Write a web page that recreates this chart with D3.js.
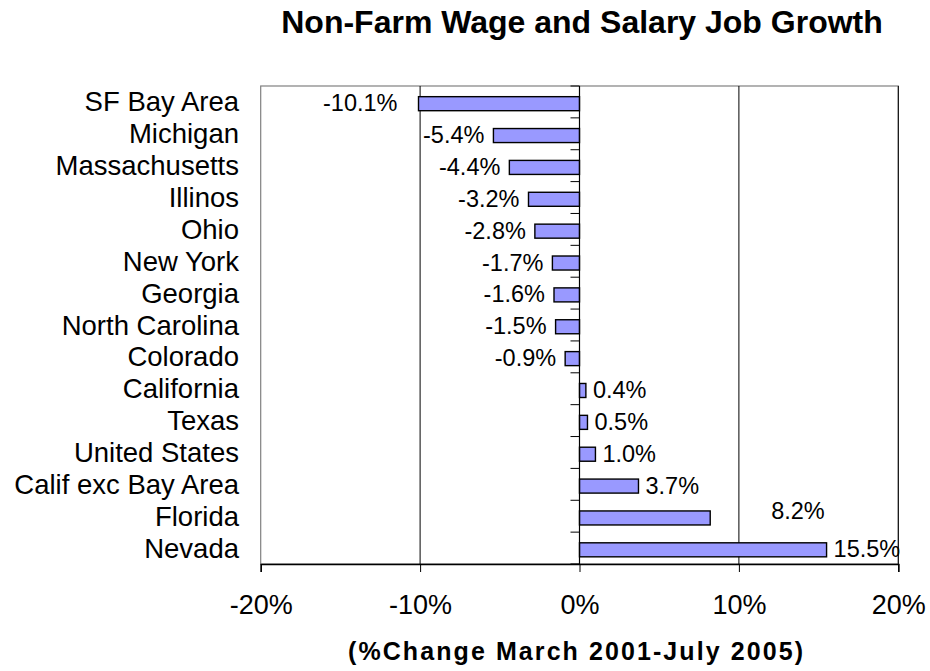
<!DOCTYPE html>
<html>
<head>
<meta charset="utf-8">
<script src="https://cdn.jsdelivr.net/npm/d3@7"></script>
<style>
  body { margin: 0; background: #fff; }
  text { font-family: Arial, 'Liberation Sans', sans-serif; fill: #000; }
</style>
</head>
<body>
<div class="canvas"></div>
<script>
// chart data
const categories = ['SF Bay Area', 'Michigan', 'Massachusetts', 'Illinos', 'Ohio',
  'New York', 'Georgia', 'North Carolina', 'Colorado', 'California', 'Texas',
  'United States', 'Calif exc Bay Area', 'Florida', 'Nevada'];
const values = [-10.1, -5.4, -4.4, -3.2, -2.8, -1.7, -1.6, -1.5, -0.9, 0.4, 0.5, 1.0, 3.7, 8.2, 15.5];
const xTicks = [-20, -10, 0, 10, 20];

const titleText = 'Non-Farm Wage and Salary Job Growth';
const xTitleText = '(%Change March 2001-July 2005)';

// create svg
const svg = d3.select('.canvas')
  .append('svg')
    .attr('width', 930)
    .attr('height', 671);

const plotLeft = 260.7, plotRight = 898.3, plotTop = 86, plotBottom = 564;

// scales
const x = d3.scaleLinear()
  .domain([-20, 20])
  .range([plotLeft, plotRight]);

const y = d3.scaleBand()
  .domain(categories)
  .range([plotTop, plotBottom]);

const bw = y.bandwidth();

// plot border (grey)
svg.append('rect')
  .attr('x', plotLeft)
  .attr('y', plotTop)
  .attr('width', plotRight - plotLeft)
  .attr('height', plotBottom - plotTop)
  .attr('fill', 'none')
  .attr('stroke', '#808080')
  .attr('stroke-width', 1.2);

// vertical gridlines
svg.selectAll('.grid')
  .data(xTicks.filter(d => d !== -20))
  .enter()
  .append('line')
    .attr('class', 'grid')
    .attr('x1', d => x(d))
    .attr('x2', d => x(d))
    .attr('y1', plotTop)
    .attr('y2', plotBottom)
    .attr('stroke', '#000')
    .attr('stroke-width', 1);

// bars
svg.selectAll('.bar')
  .data(values)
  .enter()
  .append('rect')
    .attr('class', 'bar')
    .attr('x', d => Math.min(x(0), x(d)))
    .attr('y', (d, i) => y(categories[i]) + bw * 0.335)
    .attr('width', d => Math.abs(x(d) - x(0)))
    .attr('height', bw * 0.44)
    .attr('fill', '#9999ff')
    .attr('stroke', '#000')
    .attr('stroke-width', 1.4);

// category axis at zero with ticks on band boundaries
svg.append('line')
  .attr('x1', x(0)).attr('x2', x(0))
  .attr('y1', plotTop).attr('y2', plotBottom)
  .attr('stroke', '#000')
  .attr('stroke-width', 1.2);

svg.selectAll('.ctick')
  .data(categories.map(c => y(c)).concat([plotBottom]))
  .enter()
  .append('line')
    .attr('class', 'ctick')
    .attr('x1', x(0) - 9)
    .attr('x2', x(0))
    .attr('y1', d => d)
    .attr('y2', d => d)
    .attr('stroke', '#000')
    .attr('stroke-width', 1);

// category labels
svg.selectAll('.cat')
  .data(categories)
  .enter()
  .append('text')
    .attr('class', 'cat')
    .attr('x', 239)
    .attr('y', d => y(d) + bw / 2 + 9.5)
    .attr('text-anchor', 'end')
    .attr('font-size', '27.5px')
    .text(d => d);

// value labels (a couple were moved by hand in the original)
const labelNudge = { 'SF Bay Area': [-12, 0], 'Florida': [54, -6] };
svg.selectAll('.val')
  .data(values)
  .enter()
  .append('text')
    .attr('class', 'val')
    .attr('x', (d, i) => {
      const n = labelNudge[categories[i]] || [0, 0];
      return (d < 0 ? x(d) - 9 : x(d) + 7) + n[0];
    })
    .attr('y', (d, i) => {
      const n = labelNudge[categories[i]] || [0, 0];
      return y(categories[i]) + bw * 0.555 + 7.5 + n[1];
    })
    .attr('text-anchor', d => d < 0 ? 'end' : 'start')
    .attr('font-size', '23.5px')
    .text(d => d.toFixed(1) + '%');

// x axis
const xAxis = d3.axisBottom(x)
  .tickValues(xTicks)
  .tickFormat(d => d + '%')
  .tickSize(8);

const gx = svg.append('g')
  .attr('transform', `translate(0,${plotBottom})`)
  .call(xAxis);

gx.select('.domain')
  .attr('stroke', '#000')
  .attr('stroke-width', 1.5);
gx.selectAll('.tick line').attr('stroke', '#000');
gx.selectAll('.tick text')
  .attr('font-size', '27px')
  .attr('font-family', "Arial, 'Liberation Sans', sans-serif")
  .attr('fill', '#000')
  .attr('dy', 0)
  .attr('y', 50);

// title
svg.append('text')
  .attr('x', 582)
  .attr('y', 33)
  .attr('text-anchor', 'middle')
  .attr('font-size', '32px')
  .attr('font-weight', 'bold')
  .text(titleText);

// x axis title
svg.append('text')
  .attr('x', 575.5)
  .attr('y', 660)
  .attr('text-anchor', 'middle')
  .attr('font-size', '25px')
  .attr('font-weight', 'bold')
  .attr('textLength', 455)
  .attr('lengthAdjust', 'spacing')
  .text(xTitleText);
</script>
</body>
</html>
